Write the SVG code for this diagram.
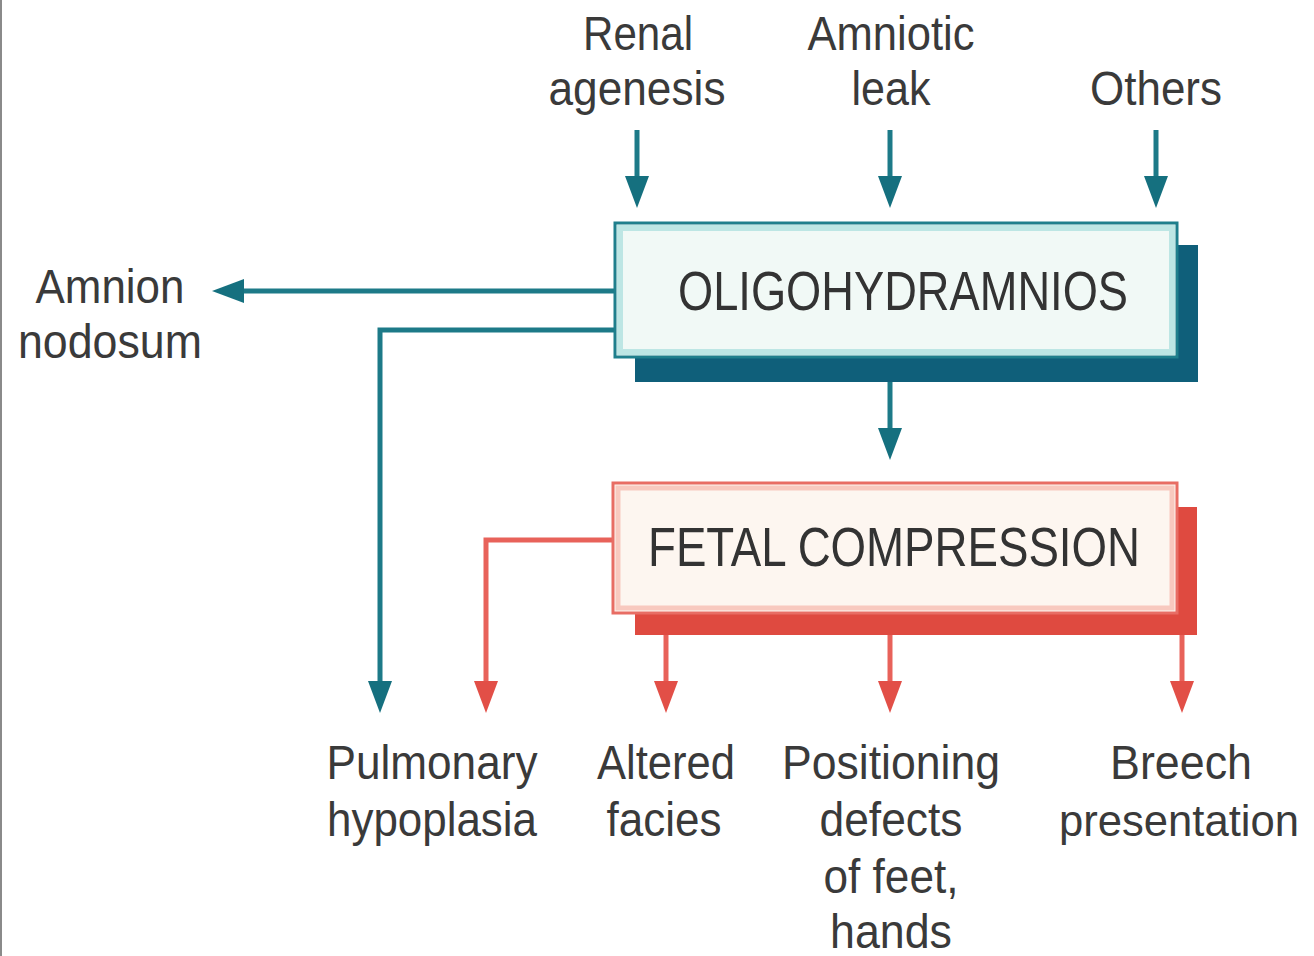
<svg xmlns="http://www.w3.org/2000/svg" width="1314" height="956" viewBox="0 0 1314 956">
<defs>
<style>
.lbl{font-family:"Liberation Sans",Arial,sans-serif;font-size:48px;fill:#3a3a3a;text-anchor:middle}
.title{font-family:"Liberation Sans",Arial,sans-serif;font-size:56px;fill:#333;text-anchor:middle}
.teal{fill:none;stroke:#1d7a88;stroke-width:5}
.red{fill:none;stroke:#e8625a;stroke-width:5}
</style>
<marker id="ah-teal" markerUnits="userSpaceOnUse" viewBox="0 0 32 24" markerWidth="32" markerHeight="24" refX="8" refY="12" orient="auto">
<path d="M0,0 L32,12 L0,24 Z" fill="#15707f"/>
</marker>
<marker id="ah-red" markerUnits="userSpaceOnUse" viewBox="0 0 32 24" markerWidth="32" markerHeight="24" refX="8" refY="12" orient="auto">
<path d="M0,0 L32,12 L0,24 Z" fill="#e24f47"/>
</marker>
</defs>
<rect x="0" y="0" width="1314" height="956" fill="#ffffff"/>
<rect x="0" y="0" width="2" height="956" fill="#8a8a8a"/>

<g id="connectors">
<path class="teal" d="M637,130 V184" marker-end="url(#ah-teal)"/>
<path class="teal" d="M890,130 V184" marker-end="url(#ah-teal)"/>
<path class="teal" d="M1156,130 V184" marker-end="url(#ah-teal)"/>
<path class="teal" d="M615,291 H236" marker-end="url(#ah-teal)"/>
<path class="teal" d="M615,330 H380 V689" marker-end="url(#ah-teal)"/>
<path class="teal" d="M890,382 V436" marker-end="url(#ah-teal)"/>
<path class="red" d="M613,540 H486 V689" marker-end="url(#ah-red)"/>
<path class="red" d="M666,635 V689" marker-end="url(#ah-red)"/>
<path class="red" d="M890,635 V689" marker-end="url(#ah-red)"/>
<path class="red" d="M1182,635 V689" marker-end="url(#ah-red)"/>
</g>

<g id="renal-agenesis">
<text class="lbl" x="638" y="50" textLength="110" lengthAdjust="spacingAndGlyphs">Renal</text>
<text class="lbl" x="637" y="105" textLength="177" lengthAdjust="spacingAndGlyphs">agenesis</text>
</g>
<g id="amniotic-leak">
<text class="lbl" x="891" y="50" textLength="167" lengthAdjust="spacingAndGlyphs">Amniotic</text>
<text class="lbl" x="891" y="105" textLength="79" lengthAdjust="spacingAndGlyphs">leak</text>
</g>
<g id="others">
<text class="lbl" x="1156" y="105" textLength="132" lengthAdjust="spacingAndGlyphs">Others</text>
</g>

<g id="oligohydramnios">
<rect x="635" y="245" width="563" height="137" fill="#0f5f7a"/>
<rect x="615" y="223" width="562" height="134" fill="#f1f9f6" stroke="#1f7f8c" stroke-width="3"/>
<rect x="620" y="228" width="552" height="124" fill="none" stroke="#bde6e4" stroke-width="6"/>
<text class="title" x="903" y="310" textLength="450" lengthAdjust="spacingAndGlyphs">OLIGOHYDRAMNIOS</text>
</g>

<g id="amnion-nodosum">
<text class="lbl" x="110" y="303" textLength="149" lengthAdjust="spacingAndGlyphs">Amnion</text>
<text class="lbl" x="110" y="358" textLength="184" lengthAdjust="spacingAndGlyphs">nodosum</text>
</g>

<g id="fetal-compression">
<rect x="635" y="507" width="562" height="128" fill="#df4a40"/>
<rect x="613" y="483" width="564" height="130" fill="#fdf6f0" stroke="#e86d64" stroke-width="3"/>
<rect x="618" y="488" width="554" height="120" fill="none" stroke="#f8c9bf" stroke-width="5"/>
<text class="title" x="894" y="566" textLength="492" lengthAdjust="spacingAndGlyphs">FETAL COMPRESSION</text>
</g>

<g id="pulmonary-hypoplasia">
<text class="lbl" x="432" y="779" textLength="211" lengthAdjust="spacingAndGlyphs">Pulmonary</text>
<text class="lbl" x="432" y="836" textLength="210" lengthAdjust="spacingAndGlyphs">hypoplasia</text>
</g>
<g id="altered-facies">
<text class="lbl" x="666" y="779" textLength="138" lengthAdjust="spacingAndGlyphs">Altered</text>
<text class="lbl" x="664" y="836" textLength="115" lengthAdjust="spacingAndGlyphs">facies</text>
</g>
<g id="positioning-defects">
<text class="lbl" x="891" y="779" textLength="218" lengthAdjust="spacingAndGlyphs">Positioning</text>
<text class="lbl" x="891" y="836" textLength="143" lengthAdjust="spacingAndGlyphs">defects</text>
<text class="lbl" x="891" y="893" textLength="135" lengthAdjust="spacingAndGlyphs">of feet,</text>
<text class="lbl" x="891" y="948" textLength="122" lengthAdjust="spacingAndGlyphs">hands</text>
</g>
<g id="breech-presentation">
<text class="lbl" x="1181" y="779" textLength="142" lengthAdjust="spacingAndGlyphs">Breech</text>
<text class="lbl" x="1179" y="836" style="font-size:44px" textLength="240" lengthAdjust="spacingAndGlyphs">presentation</text>
</g>
</svg>
